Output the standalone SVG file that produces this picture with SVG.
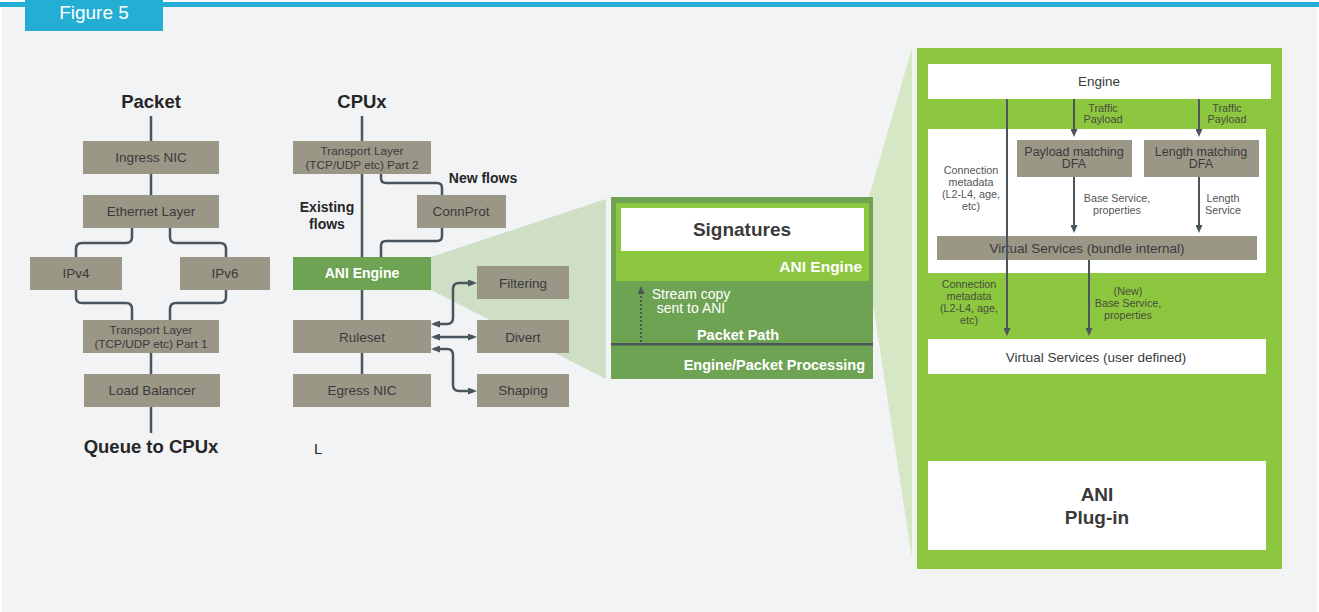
<svg xmlns="http://www.w3.org/2000/svg" width="1319" height="612" viewBox="0 0 1319 612">
<style>
.bg{fill:#f2f3f5}
.box{fill:#9a9787}
.t{font-family:"Liberation Sans",Arial,sans-serif;fill:#3a3a3a;text-anchor:middle}
.n{font-size:13.5px}
.s{font-size:11.8px}
.b{font-weight:bold}
.h{font-size:18.5px;font-weight:bold;fill:#262626}
.f{font-size:14px;font-weight:bold;fill:#262626}
.w{fill:#ffffff}
.lbl{font-size:10.8px;fill:#555555}
.lblg{font-size:10.8px;fill:#44503c}
.c{fill:none;stroke:#4b555c;stroke-width:2.5}
.c2{fill:none;stroke:#4b555c;stroke-width:2}
</style>
<defs>
<marker id="ah" viewBox="0 0 9 7" refX="6" refY="3.5" markerWidth="9" markerHeight="7" markerUnits="userSpaceOnUse" orient="auto-start-reverse">
<path d="M0,0 L9,3.5 L0,7 z" fill="#4b555c"/>
</marker>
<marker id="as" viewBox="0 0 8 7" refX="5" refY="3.5" markerWidth="8" markerHeight="7" markerUnits="userSpaceOnUse" orient="auto">
<path d="M0,0 L8,3.5 L0,7 z" fill="#4b555c"/>
</marker>
</defs>
<rect x="0" y="0" width="1319" height="612" fill="#ffffff"/>
<rect class="bg" x="2" y="7" width="1315" height="605"/>
<rect x="0" y="2" width="1319" height="5" fill="#25aed4"/>
<g id="figure-tab">
<rect x="25" y="0" width="138" height="31" fill="#25aed4"/>
<text x="94" y="19" font-family="'Liberation Sans',Arial,sans-serif" font-size="19" fill="#ffffff" text-anchor="middle">Figure 5</text>
</g>
<!-- wedges -->
<polygon points="431,257 606,199 606,379 431,290" fill="#cfdfc6"/>
<polygon points="869,197 912,48 912,558 869,278" fill="#d6e7c5"/>
<g id="connectors">
<path class="c" d="M151,116 V141 M151,174 V195 M151,353 V374 M151,407 V433"/>
<path class="c" d="M132,228 V237 Q132,243 126,243 H82 Q76,243 76,249 V257"/>
<path class="c" d="M170,228 V237 Q170,243 176,243 H220 Q226,243 226,249 V257"/>
<path class="c" d="M76,290 V297 Q76,303 82,303 H126 Q132,303 132,309 V320"/>
<path class="c" d="M226,290 V297 Q226,303 220,303 H176 Q170,303 170,309 V320"/>
<path class="c" d="M362,116 V141 M362,174 V257 M362,290 V320 M362,353 V374"/>
<path class="c" d="M381,174 V178 Q381,183 386,183 H437 Q442,183 442,188 V195"/>
<path class="c" d="M442,228 V236 Q442,241 437,241 H386 Q381,241 381,246 V257"/>
<path class="c" d="M434,324 H447 Q453,324 453,318 V289 Q453,283 459,283 H474" marker-start="url(#ah)" marker-end="url(#ah)"/>
<path class="c" d="M434,337 H474" marker-start="url(#ah)" marker-end="url(#ah)"/>
<path class="c" d="M434,349 H447 Q453,349 453,355 V385 Q453,391 459,391 H474" marker-start="url(#ah)" marker-end="url(#ah)"/>
</g>
<!-- left column -->
<text class="t h" x="151" y="108">Packet</text>
<g id="ingress-nic"><rect class="box" x="83" y="141" width="136" height="33"/><text class="t n" x="151" y="162">Ingress NIC</text></g>
<g id="ethernet"><rect class="box" x="83" y="195" width="136" height="33"/><text class="t n" x="151" y="216">Ethernet Layer</text></g>
<g id="ipv4"><rect class="box" x="30" y="257" width="92" height="33"/><text class="t n" x="76" y="278">IPv4</text></g>
<g id="ipv6"><rect class="box" x="180" y="257" width="90" height="33"/><text class="t n" x="225" y="278">IPv6</text></g>
<g id="transport1"><rect class="box" x="83" y="320" width="136" height="33"/><text class="t s" x="151" y="334">Transport Layer</text><text class="t s" x="151" y="348">(TCP/UDP etc) Part 1</text></g>
<g id="load-balancer"><rect class="box" x="84" y="374" width="136" height="33"/><text class="t n" x="152" y="395">Load Balancer</text></g>
<text class="t h" x="151" y="453">Queue to CPUx</text>
<!-- middle column -->
<text class="t h" x="362" y="108">CPUx</text>
<g id="transport2"><rect class="box" x="293" y="141" width="138" height="33"/><text class="t s" x="362" y="155">Transport Layer</text><text class="t s" x="362" y="169">(TCP/UDP etc) Part 2</text></g>
<text class="t f" x="483" y="183">New flows</text>
<text class="t f" x="327" y="212">Existing</text>
<text class="t f" x="327" y="229">flows</text>
<g id="connprot"><rect class="box" x="417" y="195" width="89" height="33"/><text class="t n" x="461" y="216">ConnProt</text></g>
<g id="ani-engine"><rect x="293" y="257" width="138" height="33" fill="#6ea354"/><text class="t b w" font-size="14" x="362" y="278">ANI Engine</text></g>
<g id="ruleset"><rect class="box" x="293" y="320" width="138" height="33"/><text class="t n" x="362" y="342">Ruleset</text></g>
<g id="egress-nic"><rect class="box" x="293" y="374" width="138" height="33"/><text class="t n" x="362" y="395">Egress NIC</text></g>
<g id="filtering"><rect class="box" x="477" y="266" width="92" height="33"/><text class="t n" x="523" y="288">Filtering</text></g>
<g id="divert"><rect class="box" x="477" y="320" width="92" height="33"/><text class="t n" x="523" y="342">Divert</text></g>
<g id="shaping"><rect class="box" x="477" y="374" width="92" height="33"/><text class="t n" x="523" y="395">Shaping</text></g>
<text x="314" y="454" font-family="'Liberation Sans',Arial,sans-serif" font-size="15" fill="#262626">L</text>
<!-- middle panel -->
<g id="ani-zoom">
<rect x="611" y="197" width="262" height="182" fill="#6ea354"/>
<rect x="616" y="203" width="253" height="78" fill="#8dc63f"/>
<rect x="621" y="208" width="243" height="43" fill="#ffffff"/>
<text class="t" font-size="19" font-weight="bold" fill="#262626" x="742" y="236">Signatures</text>
<text x="862" y="272" font-family="'Liberation Sans',Arial,sans-serif" font-size="15.5" font-weight="bold" fill="#ffffff" text-anchor="end">ANI Engine</text>
<path d="M641,342 V289" fill="none" stroke="#4b555c" stroke-width="2" stroke-dasharray="2 2" marker-end="url(#as)"/>
<text class="t w" font-size="14" x="691" y="299">Stream copy</text>
<text class="t w" font-size="14" x="691" y="313">sent to ANI</text>
<text class="t b w" font-size="14.5" x="738" y="340">Packet Path</text>
<rect x="611" y="343" width="262" height="2.5" fill="#4b555c"/>
<text x="865" y="370" font-family="'Liberation Sans',Arial,sans-serif" font-size="14.5" font-weight="bold" fill="#ffffff" text-anchor="end">Engine/Packet Processing</text>
</g>
<!-- right panel -->
<g id="plugin-panel">
<rect x="917" y="48" width="365" height="521" fill="#8dc63f"/>
<g id="engine"><rect x="928" y="64" width="343" height="35" fill="#ffffff"/><text class="t n" x="1099" y="86">Engine</text></g>
<rect x="928" y="129" width="338" height="144" fill="#ffffff"/>
<g id="payload-dfa"><rect class="box" x="1017" y="140" width="115" height="37"/><text class="t" font-size="12.5" x="1074" y="156">Payload matching</text><text class="t" font-size="12.5" x="1074" y="168">DFA</text></g>
<g id="length-dfa"><rect class="box" x="1144" y="140" width="115" height="37"/><text class="t" font-size="12.5" x="1201" y="156">Length matching</text><text class="t" font-size="12.5" x="1201" y="168">DFA</text></g>
<g id="vs-bundle"><rect class="box" x="937" y="236" width="320" height="24"/><text class="t n" x="1087" y="253">Virtual Services (bundle internal)</text></g>
<g id="vs-user"><rect x="928" y="339" width="338" height="35" fill="#ffffff"/><text class="t n" x="1096" y="362">Virtual Services (user defined)</text></g>
<g id="ani-plugin"><rect x="928" y="461" width="338" height="89" fill="#ffffff"/><text class="t" font-size="19" font-weight="bold" fill="#262626" x="1097" y="501">ANI</text><text class="t" font-size="19" font-weight="bold" fill="#262626" x="1097" y="524">Plug-in</text></g>
<g id="plugin-connectors">
<path class="c2" d="M1007,99 V333" marker-end="url(#as)"/>
<path class="c2" d="M1074,99 V134" marker-end="url(#as)"/>
<path class="c2" d="M1199,99 V134" marker-end="url(#as)"/>
<path class="c2" d="M1074,177 V230" marker-end="url(#as)"/>
<path class="c2" d="M1199,177 V230" marker-end="url(#as)"/>
<path class="c2" d="M1089,260 V333" marker-end="url(#as)"/>
</g>
<text class="t lblg" x="1103" y="112">Traffic</text>
<text class="t lblg" x="1103" y="123">Payload</text>
<text class="t lblg" x="1227" y="112">Traffic</text>
<text class="t lblg" x="1227" y="123">Payload</text>
<text class="t lbl" x="971" y="174">Connection</text>
<text class="t lbl" x="971" y="186">metadata</text>
<text class="t lbl" x="971" y="198">(L2-L4, age,</text>
<text class="t lbl" x="971" y="210">etc)</text>
<text class="t lbl" x="1117" y="202">Base Service,</text>
<text class="t lbl" x="1117" y="214">properties</text>
<text class="t lbl" x="1223" y="202">Length</text>
<text class="t lbl" x="1223" y="214">Service</text>
<text class="t lblg" x="969" y="288">Connection</text>
<text class="t lblg" x="969" y="300">metadata</text>
<text class="t lblg" x="969" y="312">(L2-L4, age,</text>
<text class="t lblg" x="969" y="324">etc)</text>
<text class="t lblg" x="1128" y="295">(New)</text>
<text class="t lblg" x="1128" y="307">Base Service,</text>
<text class="t lblg" x="1128" y="319">properties</text>
</g>
</svg>
